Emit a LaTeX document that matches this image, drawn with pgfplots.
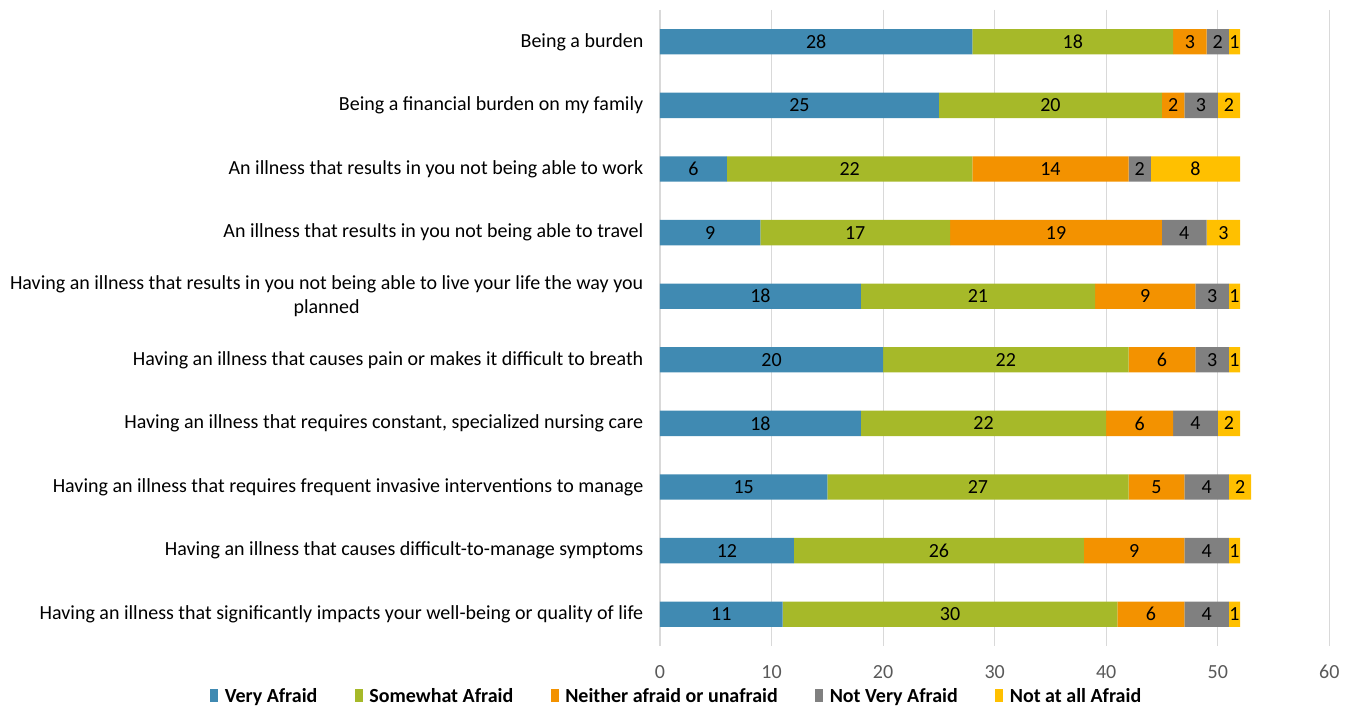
\documentclass[border=0pt]{standalone}
\usepackage{pgfplots}
\pgfplotsset{compat=1.18}
\usepackage{fontspec}
\setmainfont{Carlito}

\definecolor{cVery}{RGB}{64,138,178}
\definecolor{cSome}{RGB}{166,185,41}
\definecolor{cNeither}{RGB}{243,146,0}
\definecolor{cNotVery}{RGB}{128,128,128}
\definecolor{cNotAll}{RGB}{255,192,0}
\definecolor{gridgray}{RGB}{217,217,217}
\definecolor{ticktext}{RGB}{89,89,89}

\begin{document}
\begin{tikzpicture}
\useasboundingbox (0,0) rectangle (1014.75pt,530.25pt);
\begin{axis}[
  at={(495pt,45.75pt)}, anchor=south west,
  scale only axis,
  width=502pt, height=477pt,
  xbar stacked,
  bar width=19pt,
  xmin=0, xmax=60,
  ymin=-0.5, ymax=9.5,
  y dir=reverse,
  xtick={0,10,...,60},
  ytick={0,...,9},
  yticklabels={
    Being a burden,
    Being a financial burden on my family,
    An illness that results in you not being able to work,
    An illness that results in you not being able to travel,
    {Having an illness that results in you not being able to live your life the way you\\planned},
    Having an illness that causes pain or makes it difficult to breath,
    {Having an illness that requires constant, specialized nursing care},
    Having an illness that requires frequent invasive interventions to manage,
    Having an illness that causes difficult-to-manage symptoms,
    Having an illness that significantly impacts your well-being or quality of life
  },
  yticklabel style={align=center, font=\fontsize{15}{17.5}\selectfont, xshift=-9pt},
  xticklabel style={font=\fontsize{15}{17}\selectfont, text=ticktext, yshift=-11pt},
  /pgf/number format/assume math mode=true,
  axis line style={draw=none},
  tick style={draw=none},
  xmajorgrids,
  grid style={gridgray, line width=0.8pt},
  nodes near coords,
  every node near coord/.append style={
    anchor=center, font=\fontsize{15}{17}\selectfont, text=black},
  legend columns=5,
  legend style={at={(0.0254,-0.0786)}, anchor=center, draw=none,
    font=\fontsize{15}{17}\selectfont\bfseries,
    /tikz/every odd column/.append style={column sep=3pt},
    /tikz/every even column/.append style={column sep=26pt}},
  legend image code/.code={\fill[#1] (0pt,-4.5pt) rectangle (6pt,5pt);},
]
\addplot+[draw=none, fill=cVery] coordinates {
  (28,0) (25,1) (6,2) (9,3) (18,4) (20,5) (18,6) (15,7) (12,8) (11,9)};
\addplot+[draw=none, fill=cSome] coordinates {
  (18,0) (20,1) (22,2) (17,3) (21,4) (22,5) (22,6) (27,7) (26,8) (30,9)};
\addplot+[draw=none, fill=cNeither] coordinates {
  (3,0) (2,1) (14,2) (19,3) (9,4) (6,5) (6,6) (5,7) (9,8) (6,9)};
\addplot+[draw=none, fill=cNotVery] coordinates {
  (2,0) (3,1) (2,2) (4,3) (3,4) (3,5) (4,6) (4,7) (4,8) (4,9)};
\addplot+[draw=none, fill=cNotAll] coordinates {
  (1,0) (2,1) (8,2) (3,3) (1,4) (1,5) (2,6) (2,7) (1,8) (1,9)};
\legend{Very Afraid, Somewhat Afraid, Neither afraid or unafraid, Not Very Afraid, Not at all Afraid}
\end{axis}
\end{tikzpicture}
\end{document}
